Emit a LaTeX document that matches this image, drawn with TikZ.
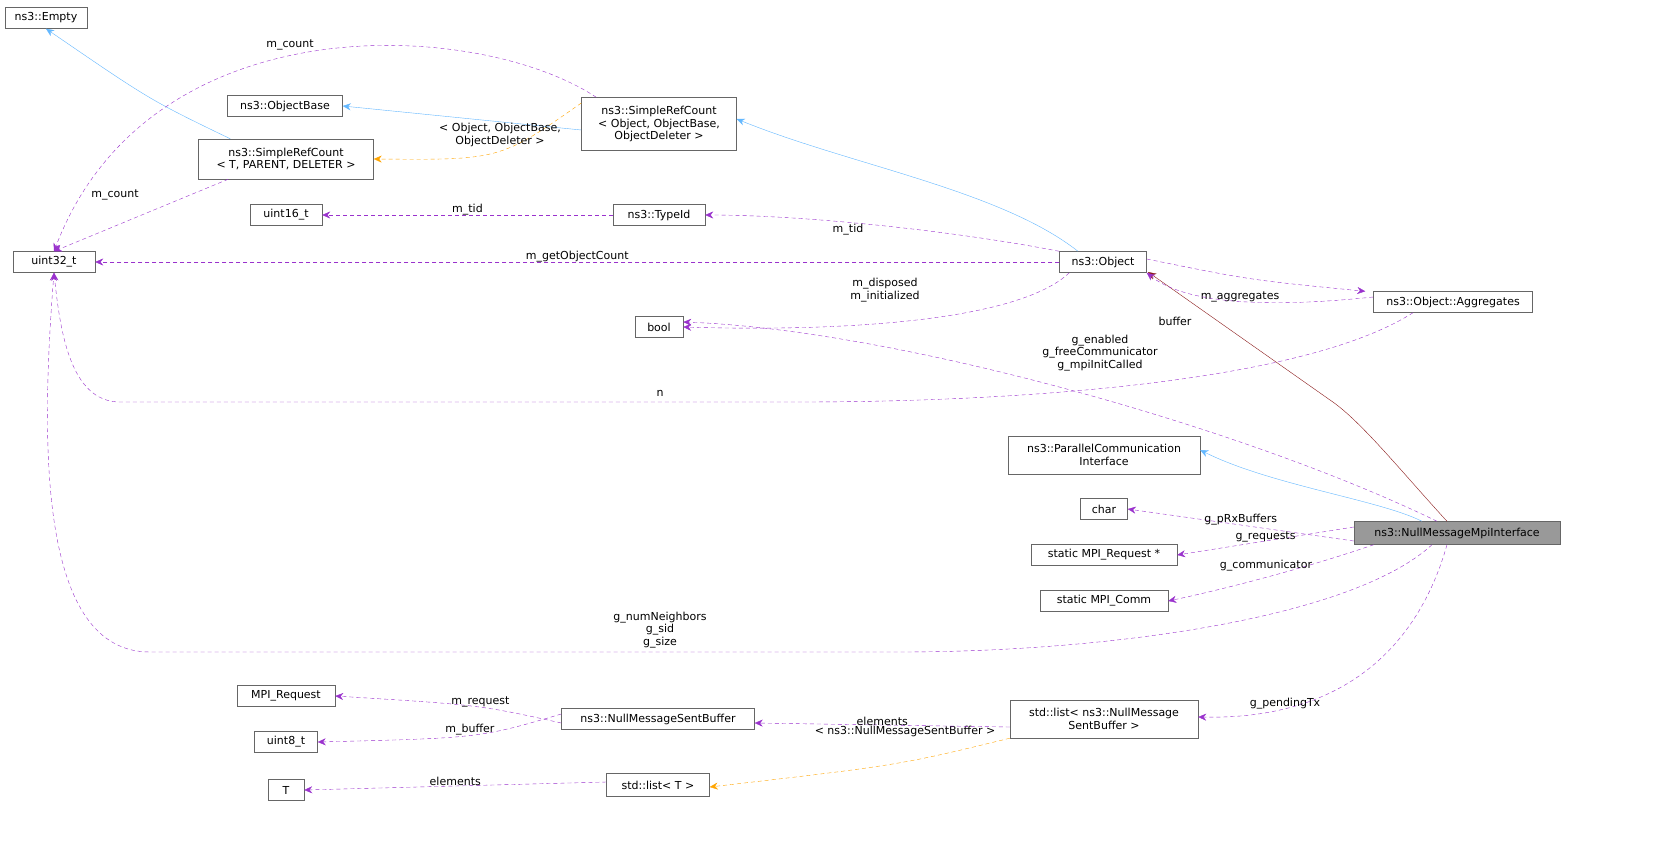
\documentclass[tikz,border=0pt]{standalone}
\usepackage{fontspec}
\setmainfont{DejaVu Sans}
\usetikzlibrary{arrows.meta}
\definecolor{pur}{HTML}{9A32CD}
\definecolor{blu}{HTML}{63B8FF}
\definecolor{ora}{HTML}{FFA500}
\definecolor{drd}{HTML}{8B1A1A}
\tikzset{
 box/.style={draw=black!60,fill=white,inner sep=1pt,align=center,font=\fontsize{11}{12.5}\selectfont,minimum height=21},
 lbl/.style={font=\fontsize{11}{12.5}\selectfont,align=center,inner sep=0pt,text=black},
 usea/.style={pur,dashed,dash pattern=on 4pt off 3pt,-{Stealth[length=8pt,width=7pt]}},
 inh/.style={blu,-{Stealth[length=8pt,width=7pt]}},
 tmpl/.style={ora,dashed,dash pattern=on 4pt off 3pt,-{Stealth[length=8pt,width=7pt]}},
}
\begin{document}
\begin{tikzpicture}[x=1pt,y=-1pt]
\fill[white] (0,0) rectangle (1659,856);
\useasboundingbox (0,0) rectangle (1659,856);
\node[box,minimum width=82] (empty) at (46,18) {ns3::Empty};
\node[box,minimum width=115] (objbase) at (285,106) {ns3::ObjectBase};
\node[box,minimum width=155,minimum height=53] (src) at (659,124) {ns3::SimpleRefCount\\< Object, ObjectBase,\\ObjectDeleter >};
\node[box,minimum width=175,minimum height=40] (srt) at (286,159) {ns3::SimpleRefCount\\< T, PARENT, DELETER >};
\node[box,minimum width=72] (u16) at (286,215) {uint16\_t};
\node[box,minimum width=92] (tid) at (659,215) {ns3::TypeId};
\node[box,minimum width=82] (u32) at (54,262) {uint32\_t};
\node[box,minimum width=87] (obj) at (1103,262) {ns3::Object};
\node[box,minimum width=48] (bool) at (659,327) {bool};
\node[box,minimum width=159] (agg) at (1453,302) {ns3::Object::Aggregates};
\node[box,minimum width=192,minimum height=38] (pci) at (1104,455) {ns3::ParallelCommunication\\Interface};
\node[box,minimum width=47] (char) at (1104,509) {char};
\node[box,minimum width=146] (mreqp) at (1104,555) {static MPI\_Request *};
\node[box,minimum width=206,minimum height=23,fill=black!40] (nmi) at (1457,533) {ns3::NullMessageMpiInterface};
\node[box,minimum width=128] (comm) at (1104,601) {static MPI\_Comm};
\node[box,minimum width=98] (mreq) at (286,696) {MPI\_Request};
\node[box,minimum width=63] (u8) at (286,742) {uint8\_t};
\node[box,minimum width=193] (nmsb) at (658,719) {ns3::NullMessageSentBuffer};
\node[box,minimum width=188,minimum height=38] (lnm) at (1104,719) {std::list< ns3::NullMessage\\SentBuffer >};
\node[box,minimum width=36] (T) at (286,790) {T};
\node[box,minimum width=103,minimum height=23] (lT) at (658,785) {std::list< T >};

% inheritance
\draw[inh] ([xshift=32]srt.north west) .. controls (150,100) .. (empty.south);
\draw[inh] ([yshift=-6]src.west) -- (objbase.east);
\draw[inh] ([xshift=-25]obj.north) .. controls (1000,190) and (850,165) .. ([yshift=5]src.east);
\draw[inh] ([xshift=-35]nmi.north) .. controls (1380,500) and (1270,485) .. ([yshift=5]pci.east);
\draw[drd,-{Stealth[length=8pt,width=7pt]}] ([xshift=-10]nmi.north) .. controls (1400,470) and (1360,420) .. (1330,400) -- (1148,272);
\draw[tmpl] ([yshift=21]src.west) .. controls (500,160) .. (srt.east);
\node[lbl] (l1) at (500,135) {< Object, ObjectBase,\\ObjectDeleter >};
\draw[tmpl] (lnm.south west) .. controls (900,765) .. ([yshift=-2]lT.east);
\node[lbl] (l2) at (905,731) {< ns3::NullMessageSentBuffer >};

% usage
\draw[usea] ([xshift=15]src.north west) .. controls (480,20) and (150,0) .. (u32.north);
\node[lbl] (l3) at (290,45) {m\_count};
\draw[usea] ([xshift=30]srt.south west) -- (u32.north);
\node[lbl] (l4) at (115,195) {m\_count};
\draw[usea] (tid.west) -- (u16.east) node[lbl,midway,above] {m\_tid};
\draw[usea] (obj.north west) .. controls (950,230) and (800,215) .. (tid.east);
\node[lbl] (l5) at (848,230) {m\_tid};
\draw[usea] (obj.west) -- (u32.east) node[lbl,pos=0.5,above] {m\_getObjectCount};
\draw[usea] ([xshift=10]obj.south west) .. controls (1020,320) and (850,332) .. (bool.east);
\node[lbl] (l6) at (885,290) {m\_disposed\\m\_initialized};
\draw[usea] ([yshift=3]obj.east) .. controls (1250,280) .. ([xshift=-8]agg.north west);
\node[lbl] (l7) at (1240,297) {m\_aggregates};
\draw[usea] ([yshift=5]agg.west) .. controls (1250,310) and (1180,300) .. (obj.south east);
\node[lbl] (l8) at (1175,321) {buffer};
\draw[usea] ([xshift=-40]agg.south) .. controls (1300,385) and (1000,402) .. (800,402) -- (120,402) .. controls (70,402) and (60,330) .. (u32.south);
\node[lbl] (nlbl) at (660,393) {n};
\draw[usea] ([xshift=-20]nmi.north) .. controls (1250,430) and (900,330) .. ([yshift=5]bool.east);
\node[lbl] (glbl) at (1100,353) {g\_enabled\\g\_freeCommunicator\\g\_mpiInitCalled};
\draw[usea] ([yshift=-8]nmi.west) -- (char.east) node[lbl,pos=0.5,above] {g\_pRxBuffers};
\draw[usea] ([yshift=6]nmi.west) -- (mreqp.east) node[lbl,pos=0.5,above=-1pt] {g\_requests};
\draw[usea] ([xshift=20]nmi.south west) .. controls (1300,570) and (1220,590) .. (comm.east);
\node[lbl] (l9) at (1266,566) {g\_communicator};
\draw[usea] ([xshift=-25]nmi.south) .. controls (1350,620) and (1100,652) .. (900,652) -- (150,652) .. controls (40,652) and (40,450) .. (u32.south);
\node[lbl] (nslbl) at (660,630) {g\_numNeighbors\\g\_sid\\g\_size};
\draw[usea] ([xshift=-10]nmi.south) .. controls (1420,640) and (1350,720) .. ([yshift=2]lnm.east);
\node[lbl] (l10) at (1285,704) {g\_pendingTx};
\draw[usea] ([yshift=-8]lnm.west) -- ([yshift=-4]nmsb.east) node[lbl,midway,above=-1pt] {elements};
\draw[usea] ([yshift=-4]nmsb.west) .. controls (480,705) .. (mreq.east) node[lbl,pos=0.45,above] {m\_request};
\draw[usea] ([yshift=5]nmsb.west) .. controls (480,738) .. (u8.east) node[lbl,pos=0.5,above] {m\_buffer};
\draw[usea] ([yshift=3]lT.west) -- (T.east) node[lbl,midway,above] {elements};
\end{tikzpicture}
\end{document}
